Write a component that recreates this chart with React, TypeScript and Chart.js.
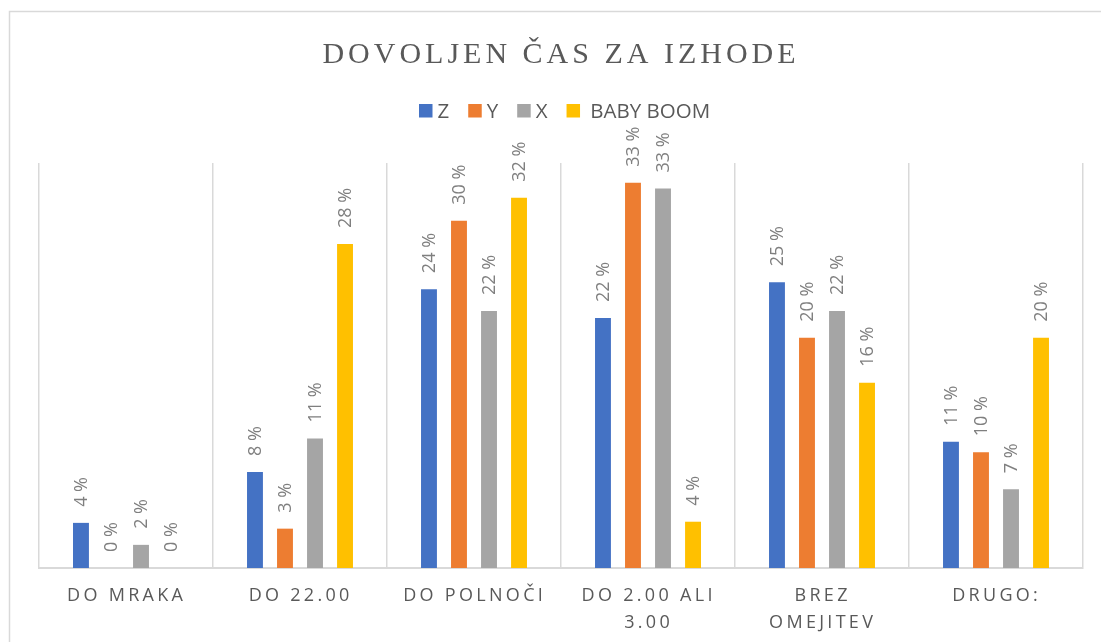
import React, { useEffect, useRef } from "react";
import { Chart, registerables } from "chart.js";

Chart.register(...registerables);

const chartTitle = "DOVOLJEN ČAS ZA IZHODE";
const categories: string[][] = [
  ["DO MRAKA"],
  ["DO 22.00"],
  ["DO POLNOČI"],
  ["DO 2.00 ALI", "3.00"],
  ["BREZ", "OMEJITEV"],
  ["DRUGO:"],
];
const seriesNames = ["Z", "Y", "X", " BABY BOOM"];
const seriesColors = ["#4472C4", "#ED7D31", "#A5A5A5", "#FFC000"];
const zValues = [3.9, 8.3, 24.1, 21.6, 24.7, 10.9];
const yValues = [0, 3.4, 30.0, 33.3, 19.9, 10.0];
const xValues = [2.0, 11.2, 22.2, 32.8, 22.2, 6.8];
const babyBoomValues = [0, 28.0, 32.0, 4.0, 16.0, 19.9];
const axisMax = 35;

const SANS = '"Open Sans", "Liberation Sans", sans-serif';
const SERIF = '"Liberation Serif", "DejaVu Serif", serif';

function spacedWidth(ctx: CanvasRenderingContext2D, text: string, sp: number) {
  let w = 0;
  for (const ch of text) w += ctx.measureText(ch).width + sp;
  return w - sp;
}

function drawSpaced(
  ctx: CanvasRenderingContext2D,
  text: string,
  cx: number,
  y: number,
  sp: number
) {
  const w = spacedWidth(ctx, text, sp);
  let x = cx - w / 2;
  ctx.textAlign = "left";
  for (const ch of text) {
    ctx.fillText(ch, x, y);
    x += ctx.measureText(ch).width + sp;
  }
}

const decorPlugin = {
  id: "decor",
  beforeDraw(chart: any) {
    const ctx: CanvasRenderingContext2D = chart.ctx;
    ctx.save();
    ctx.fillStyle = "#ffffff";
    ctx.fillRect(0, 0, chart.width, chart.height);
    ctx.strokeStyle = "#d9d9d9";
    ctx.lineWidth = 1.5;
    ctx.beginPath();
    ctx.moveTo(9.5, chart.height + 5);
    ctx.lineTo(9.5, 11.5);
    ctx.lineTo(chart.width + 5, 11.5);
    ctx.stroke();
    ctx.restore();
  },
  afterDraw(chart: any) {
    const ctx: CanvasRenderingContext2D = chart.ctx;
    ctx.save();
    // Title
    ctx.fillStyle = "#595959";
    ctx.font = `30px ${SERIF}`;
    ctx.textBaseline = "alphabetic";
    drawSpaced(ctx, chartTitle, 559, 63, 4);

    // Legend
    ctx.font = `20.5px ${SANS}`;
    ctx.textBaseline = "alphabetic";
    ctx.textAlign = "left";
    let lx = 419;
    chart.data.datasets.forEach((ds: any) => {
      ctx.fillStyle = ds.backgroundColor;
      ctx.fillRect(lx, 104, 13.5, 13.5);
      lx += 13.5 + 5;
      ctx.fillStyle = "#595959";
      ctx.fillText(ds.label, lx, 118);
      lx += ctx.measureText(ds.label).width + 19;
    });

    // Category labels
    const xScale = chart.scales.x;
    ctx.font = `18px ${SANS}`;
    ctx.fillStyle = "#595959";
    ctx.textBaseline = "middle";
    categories.forEach((lines, i) => {
      const cx = xScale.getPixelForValue(i);
      lines.forEach((line, k) => {
        drawSpaced(ctx, line, cx - 1, 596 + k * 27, 3.3);
      });
    });

    // Data labels
    ctx.font = `18px ${SANS}`;
    ctx.fillStyle = "#7f7f7f";
    ctx.textBaseline = "middle";
    ctx.textAlign = "left";
    chart.data.datasets.forEach((ds: any, di: number) => {
      const meta = chart.getDatasetMeta(di);
      meta.data.forEach((bar: any, j: number) => {
        const v = ds.data[j];
        const label = `${Math.round(v)} %`;
        ctx.save();
        ctx.translate(bar.x + 1, bar.y - 16);
        ctx.rotate(-Math.PI / 2);
        ctx.fillText(label, 0, 0);
        ctx.restore();
      });
    });
    ctx.restore();
  },
};

export default function App() {
  const ref = useRef<HTMLCanvasElement | null>(null);
  useEffect(() => {
    if (!ref.current) return;
    const allSeries = [zValues, yValues, xValues, babyBoomValues];
    const chart = new Chart(ref.current, {
      type: "bar",
      data: {
        labels: categories.map((c) => c.join(" ")),
        datasets: allSeries.map((vals, i) => ({
          label: seriesNames[i],
          data: vals,
          backgroundColor: seriesColors[i],
          borderWidth: 0,
          categoryPercentage: 0.69,
          barPercentage: 0.53,
        })),
      },
      options: {
        responsive: false,
        animation: false,
        layout: { padding: { left: 39, right: 18, top: 163, bottom: 74 } },
        plugins: {
          legend: { display: false },
          title: { display: false },
          tooltip: { enabled: false },
        },
        scales: {
          x: {
            grid: {
              display: true,
              color: "#d9d9d9",
              lineWidth: 1.5,
              drawTicks: false,
              offset: true,
            },
            border: { display: true, color: "#d9d9d9", width: 2 },
            ticks: { display: false },
          },
          y: {
            display: false,
            min: 0,
            max: axisMax,
          },
        },
      },
      plugins: [decorPlugin],
    });
    let alive = true;
    if ((document as any).fonts && (document as any).fonts.load) {
      Promise.all([
        (document as any).fonts.load(`18px "Open Sans"`),
        (document as any).fonts.load(`30px "Liberation Serif"`),
      ])
        .then(() => {
          if (alive) chart.draw();
        })
        .catch(() => {});
    }
    return () => {
      alive = false;
      chart.destroy();
    };
  }, []);
  return (
    <div style={{ position: "absolute", left: 0, top: 0, width: 1101, height: 642 }}>
      <canvas ref={ref} width={1101} height={642} style={{ display: "block" }} />
    </div>
  );
}
